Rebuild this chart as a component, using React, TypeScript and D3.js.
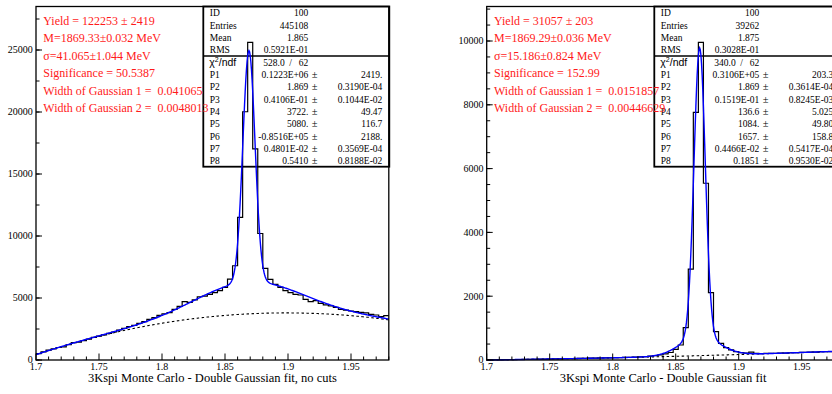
import React from "react";
import * as d3 from "d3";

// Mass axis: 70 bins of 4 MeV from 1.70 to 1.98 GeV
const X_MIN = 1.7;
const X_MAX = 1.98;
const BIN_W = 0.004;
const xTicks = [1.7, 1.75, 1.8, 1.85, 1.9, 1.95];
const xTickLabels = ["1.7", "1.75", "1.8", "1.85", "1.9", "1.95"];

// Left histogram: no cuts
const leftCounts = [
  520, 660, 790, 900, 1010, 1060, 1230, 1400, 1430, 1560,
  1690, 1820, 1920, 2030, 2150, 2260, 2420, 2550, 2700, 2800,
  2960, 3100, 3280, 3420, 3600, 3730, 3820, 4080, 4330, 4700,
  4650, 4850, 5100, 5150, 5300, 5430, 5600, 5860, 6530, 7600,
  11500, 20020, 25620, 17020, 10200, 7390, 6500, 6100, 5860, 5590,
  5430, 5300, 5240, 4890, 4700, 4790, 4570, 4440, 4360, 4250,
  4090, 4030, 3950, 3900, 3840, 3800, 3680, 3630, 3500, 3575,
];
// Right histogram
const rightCounts = [
  2, 5, 6, 9, 11, 14, 15, 19, 21, 23,
  27, 28, 32, 35, 36, 41, 43, 45, 50, 52,
  56, 60, 62, 66, 68, 73, 76, 80, 86, 92,
  98, 108, 120, 140, 160, 195, 235, 330, 470, 1014,
  2850, 7765, 9960, 5540, 2110, 890, 520, 390, 315, 265,
  232, 215, 250, 210, 200, 205, 210, 212, 220, 218,
  228, 232, 238, 236, 244, 250, 262, 258, 265, 260,
];

// Fit parameters P1..P8 (yield, mean, sigma1, bkg p0, p1, p2, sigma2, fraction of sigma1)
const leftParamValues = [122300, 1.869, 0.04106, 3722, 5080, -85160, 0.004801, 0.541];
const rightParamValues = [31060, 1.869, 0.01519, 136.6, 1084, 1657, 0.004466, 0.1851];

const leftInfo = ["100", "445108", "1.865", "0.5921E-01"];
const rightInfo = ["100", "39262", "1.875", "0.3028E-01"];
const infoLabels = ["ID", "Entries", "Mean", "RMS"];
const leftChi = ["528.0", "62"];
const rightChi = ["340.0", "62"];
const leftParamText = [
  ["0.1223E+06", "2419."],
  ["1.869", "0.3190E-04"],
  ["0.4106E-01", "0.1044E-02"],
  ["3722.", "49.47"],
  ["5080.", "116.7"],
  ["-0.8516E+05", "2188."],
  ["0.4801E-02", "0.3569E-04"],
  ["0.5410", "0.8188E-02"],
];
const rightParamText = [
  ["0.3106E+05", "203.3"],
  ["1.869", "0.3614E-04"],
  ["0.1519E-01", "0.8245E-03"],
  ["136.6", "5.025"],
  ["1084.", "49.80"],
  ["1657.", "158.8"],
  ["0.4466E-02", "0.5417E-04"],
  ["0.1851", "0.9530E-02"],
];

const leftNotes = [
  "Yield = 122253 \u00b1 2419",
  "M=1869.33\u00b10.032 MeV",
  "\u03c3=41.065\u00b11.044 MeV",
  "Significance = 50.5387",
  "Width of Gaussian 1 =  0.041065",
  "Width of Gaussian 2 =  0.0048013",
];
const rightNotes = [
  "Yield = 31057 \u00b1 203",
  "M=1869.29\u00b10.036 MeV",
  "\u03c3=15.186\u00b10.824 MeV",
  "Significance = 152.99",
  "Width of Gaussian 1 =  0.0151857",
  "Width of Gaussian 2 =  0.00446629",
];

const leftYTicks = [0, 5000, 10000, 15000, 20000, 25000];
const rightYTicks = [0, 2000, 4000, 6000, 8000, 10000];

const SERIF = "'Liberation Serif', 'Times New Roman', serif";
const SANS = "'Liberation Sans', Arial, sans-serif";

const TOP = 6.5;
const BOTTOM = 360;
const PLOT_W = 352.8;

function gauss(x: number, m: number, s: number) {
  return Math.exp(-0.5 * ((x - m) / s) ** 2) / (Math.sqrt(2 * Math.PI) * s);
}

function background(p: number[], x: number) {
  const d = x - p[1];
  return p[3] + p[4] * d + p[5] * d * d;
}

function fitValue(p: number[], x: number) {
  const sig = p[0] * BIN_W * (p[7] * gauss(x, p[1], p[2]) + (1 - p[7]) * gauss(x, p[1], p[6]));
  return sig + background(p, x);
}

type PanelProps = {
  x0: number;
  yMax: number;
  yTicks: number[];
  yMinorStep: number;
  counts: number[];
  params: number[];
  info: string[];
  chi: string[];
  paramText: string[][];
  notes: string[];
  title: string;
  boxLeft: number;
};

function Panel(props: PanelProps) {
  const { x0, yMax, yTicks, yMinorStep, counts, params, info, chi, paramText, notes, title, boxLeft } = props;
  const x = d3.scaleLinear().domain([X_MIN, X_MAX]).range([x0, x0 + PLOT_W]);
  const y = d3.scaleLinear().domain([0, yMax]).range([BOTTOM, TOP]);

  const stepPts: [number, number][] = counts.map((c, i) => [X_MIN + i * BIN_W, c]);
  stepPts.push([X_MAX, counts[counts.length - 1]]);
  const histPath = d3
    .line<[number, number]>()
    .x((d) => x(d[0]))
    .y((d) => y(d[1]))
    .curve(d3.curveStepAfter)(stepPts) as string;

  const samples = d3.range(0, 561).map((i) => X_MIN + (i * (X_MAX - X_MIN)) / 560);
  const fitPath = d3
    .line<number>()
    .x((d) => x(d))
    .y((d) => y(fitValue(params, d)))(samples) as string;
  const bkgPath = d3
    .line<number>()
    .x((d) => x(d))
    .y((d) => y(background(params, d)))(samples) as string;

  const minorX = d3.range(0, 29).map((i) => X_MIN + i * 0.01);
  const minorY = d3.range(0, yMax, yMinorStep);
  const x1 = x0 + PLOT_W;

  const rowY = (i: number) => 16.2 + 12.35 * i;
  const boxW = 186;

  return (
    <g>
      {/* statistics box */}
      <rect x={boxLeft} y={TOP} width={boxW} height={166.7 - TOP} fill="none" stroke="#000" strokeWidth={1.8} />
      <line x1={boxLeft} x2={boxLeft + boxW} y1={56} y2={56} stroke="#000" strokeWidth={1.5} />
      <g fontFamily={SERIF} fontSize={9.5} fill="#000">
        {infoLabels.map((l, i) => (
          <g key={l}>
            <text x={boxLeft + 6.5} y={rowY(i)}>{l}</text>
            <text x={boxLeft + 105} y={rowY(i)} textAnchor="end">{info[i]}</text>
          </g>
        ))}
        <text x={boxLeft + 6} y={rowY(4)} fontFamily={SANS} fontSize={10.5}>
          {"\u03c7"}
          <tspan fontSize={7} dy={-4}>2</tspan>
          <tspan dy={4}>/ndf</tspan>
        </text>
        <text x={boxLeft + 60} y={rowY(4)}>{chi[0]}</text>
        <text x={boxLeft + 86} y={rowY(4)}>/</text>
        <text x={boxLeft + 105} y={rowY(4)} textAnchor="end">{chi[1]}</text>
        {paramText.map((p, i) => (
          <g key={i}>
            <text x={boxLeft + 6.5} y={rowY(5 + i)}>{`P${i + 1}`}</text>
            <text x={boxLeft + 105} y={rowY(5 + i)} textAnchor="end">{p[0]}</text>
            <text x={boxLeft + 108.5} y={rowY(5 + i)} fontSize={10.5}>{"\u00b1"}</text>
            <text x={boxLeft + 179} y={rowY(5 + i)} textAnchor="end">{p[1]}</text>
          </g>
        ))}
      </g>

      {/* data and fit */}
      <path d={bkgPath} fill="none" stroke="#000" strokeWidth={1.1} strokeDasharray="2.5,2.5" />
      <path d={histPath} fill="none" stroke="#000" strokeWidth={1.2} />
      <path d={fitPath} fill="none" stroke="#0000ff" strokeWidth={1.4} />

      {/* frame */}
      <rect x={x0} y={TOP} width={PLOT_W} height={BOTTOM - TOP} fill="none" stroke="#000" strokeWidth={1.3} />

      {/* x axis ticks */}
      {minorX.map((v, i) => (
        <line key={i} x1={x(v)} x2={x(v)} y1={BOTTOM} y2={BOTTOM - (i % 5 === 0 ? 6.5 : 3.5)} stroke="#000" strokeWidth={1} />
      ))}
      <g fontFamily={SERIF} fontSize={10} fill="#000" textAnchor="middle">
        {xTicks.map((v, i) => (
          <text key={i} x={x(v)} y={370}>{xTickLabels[i]}</text>
        ))}
      </g>

      {/* y axis ticks */}
      {minorY.map((v, i) => (
        <line key={i} x1={x0} x2={x0 + 3.5} y1={y(v)} y2={y(v)} stroke="#000" strokeWidth={1} />
      ))}
      {yTicks.map((v) => (
        <line key={v} x1={x0} x2={x0 + 6} y1={y(v)} y2={y(v)} stroke="#000" strokeWidth={1} />
      ))}
      <g fontFamily={SERIF} fontSize={10} fill="#000" textAnchor="end">
        {yTicks.map((v) => (
          <text key={v} x={x0 - 3.3} y={y(v) + 3.4}>{String(v)}</text>
        ))}
      </g>

      <text x={(x0 + x1) / 2} y={381.5} fontFamily={SERIF} fontSize={12.5} textAnchor="middle" fill="#000">
        {title}
      </text>

      {/* fit summary */}
      <g fontFamily={SERIF} fontSize={12} fill="#ff1a1a">
        {notes.map((n, i) => (
          <text key={i} x={x0 + 7.3} y={25 + 17.4 * i} style={{ whiteSpace: "pre" }}>{n}</text>
        ))}
      </g>
    </g>
  );
}

export default function App() {
  return (
    <svg
      width={832}
      height={394}
      viewBox="0 0 832 394"
      style={{ position: "absolute", left: 0, top: 0, background: "#fff" }}
    >
      <rect x={0} y={0} width={832} height={394} fill="#fff" />
      <Panel
        x0={36}
        yMax={(BOTTOM - TOP) / 12.4 * 1000}
        yTicks={leftYTicks}
        yMinorStep={2500}
        counts={leftCounts}
        params={leftParamValues}
        info={leftInfo}
        chi={leftChi}
        paramText={leftParamText}
        notes={leftNotes}
        title="3Kspi Monte Carlo - Double Gaussian fit, no cuts"
        boxLeft={203.3}
      />
      <Panel
        x0={486.7}
        yMax={(BOTTOM - TOP) / 31.9 * 1000}
        yTicks={rightYTicks}
        yMinorStep={500}
        counts={rightCounts}
        params={rightParamValues}
        info={rightInfo}
        chi={rightChi}
        paramText={rightParamText}
        notes={rightNotes}
        title="3Kspi Monte Carlo - Double Gaussian fit"
        boxLeft={654.3}
      />
    </svg>
  );
}
